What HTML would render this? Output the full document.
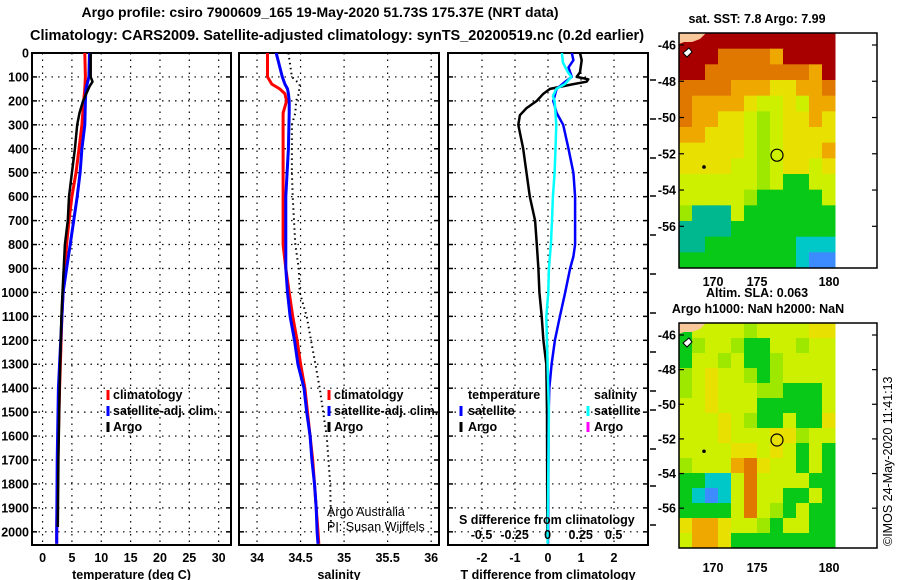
<!DOCTYPE html>
<html><head><meta charset="utf-8"><style>
html,body{margin:0;padding:0;background:#fff;}
svg{display:block;font-family:"Liberation Sans",Arial,sans-serif;}
.b{font-weight:bold;font-size:12.5px;}
</style></head><body>
<svg id="c" width="900" height="580" viewBox="0 0 900 580">
<text x="320" y="17" text-anchor="middle" class="b" style="font-size:14px">Argo profile: csiro 7900609_165 19-May-2020 51.73S 175.37E (NRT data)</text>
<text x="337" y="40" text-anchor="middle" class="b" style="font-size:14.5px">Climatology: CARS2009. Satellite-adjusted climatology: synTS_20200519.nc (0.2d earlier)</text>
<g id="plots"></g>
<text x="757" y="23" text-anchor="middle" class="b">sat. SST: 7.8 Argo: 7.99</text>
<text x="757" y="297" text-anchor="middle" class="b">Altim. SLA: 0.063</text>
<text x="758" y="313" text-anchor="middle" class="b">Argo h1000: NaN h2000: NaN</text>
<text transform="translate(892,546) rotate(-90)" style="font-size:12.5px">©IMOS 24-May-2020 11:41:13</text>
</svg>
<script>
const NS='http://www.w3.org/2000/svg';
const svg=document.getElementById('c');
const G=document.getElementById('plots');
function mk(tag,at,par){const e=document.createElementNS(NS,tag);for(const k in at)e.setAttribute(k,at[k]);(par||G).appendChild(e);return e;}

// ---- data ----
const depthTicks=[0,100,200,300,400,500,600,700,800,900,1000,1100,1200,1300,1400,1500,1600,1700,1800,1900,2000];
const tempTicks=[0,5,10,15,20,25,30];
const salTicks=[34,34.5,35,35.5,36];
const tdiffTicks=[-2,-1,0,1,2];
const sdiffTicks=[-0.5,-0.25,0,0.25,0.5];
const sdiffTickLabels=['-0.5','-0.25','0','0.25','0.5'];

const climDepth=[0,100,150,200,300,400,500,600,700,800,900,1000,1100,1400,1700,2000,2050];
const climTemp=[7.2,7.3,7.2,7.0,6.7,6.2,5.7,5.0,4.5,4.1,3.8,3.5,3.3,2.9,2.6,2.4,2.4];
const satTemp=[8.0,7.9,7.4,7.3,7.2,6.7,6.4,5.9,5.3,4.7,4.1,3.5,3.3,2.7,2.5,2.4,2.4];
const argoDepth=[0,100,120,140,200,250,300,400,500,600,700,800,900,1000,1100,1400,1700,1980];
const argoTemp=[8.2,8.2,8.5,8.0,6.9,6.3,5.9,5.5,5.0,4.5,4.3,3.8,3.6,3.4,3.2,2.9,2.7,2.6];

const salDepth=[0,100,130,150,170,200,250,400,600,800,900,1000,1100,1200,1300,1400,1500,1600,1700,1800,1900,2000,2050];
const climSal=[34.12,34.12,34.17,34.26,34.32,34.34,34.30,34.30,34.30,34.30,34.33,34.37,34.41,34.46,34.50,34.55,34.58,34.61,34.64,34.66,34.68,34.70,34.71];
const satSal=[34.22,34.29,34.32,34.35,34.36,34.37,34.37,34.36,34.33,34.33,34.33,34.35,34.38,34.43,34.47,34.54,34.57,34.61,34.63,34.66,34.68,34.69,34.70];
const argoSalDepth=[0,100,130,170,200,250,300,500,600,800,900,1000,1100,1200,1300,1400,1600,1800,1980];
const argoSal=[34.36,34.40,34.49,34.48,34.45,34.44,34.40,34.40,34.41,34.44,34.48,34.49,34.57,34.62,34.67,34.72,34.80,34.84,34.85];

const dDepth=[0,30,80,100,110,120,130,150,170,200,230,260,300,400,500,600,700,800,900,1000,1100,1200,1300,1500,2000];
const argoTdiff=[0.97,1.02,0.97,0.87,1.22,1.17,0.77,0.06,-0.14,-0.34,-0.65,-0.85,-0.9,-0.75,-0.65,-0.55,-0.39,-0.34,-0.29,-0.26,-0.19,-0.14,-0.05,-0.03,-0.02];
const satDepth=[0,30,60,100,120,150,200,250,300,400,500,600,800,850,900,1000,1100,1200,1300,1400,1500,2050];
const satTdiff=[0.72,0.77,0.62,0.72,0.52,0.26,0.16,0.26,0.46,0.62,0.77,0.82,0.82,0.77,0.67,0.52,0.36,0.21,0.11,0.04,0.02,0.0];
const sDepth=[0,40,80,100,130,150,180,200,300,400,500,600,700,800,900,1000,1100,1500,2050];
const satSdiff=[0.108,0.116,0.154,0.18,0.13,0.066,0.04,0.053,0.066,0.06,0.053,0.04,0.033,0.025,0.01,0.005,-0.01,0.01,0.0];

const latTicks=[-46,-48,-50,-52,-54,-56];
const lonTicks=[170,175,180];
const sstGrid=["RRRRRRRRRRRR","RRROOOOoRRRR","RROOOOOOOOoR","OOOOoooYYooO","OooooYyyYyoo","OooYYygyYYoY","ooYYYygyYYYY","YYYYYygyYYYo","YYYYyygyYYyY","yyyyyygyGGyy","yyyyygGGGGGy","gTTTyGGGGGGG","TTTTGGGGGGGG","TTGGGGGGGCCC","GGGGGGGGGCBB"];
const slaGrid=["GyyyygyyyyYY","GgyygGGyygyy","GyygyGGgyyyy","gyYyygGgyyyy","gyYyyyggGGGy","yyYyyyGGGGGy","yyyYygGGyGGY","yyyYyyyYYgyy","yyyyYYyYyGyG","gyyyoOYyyGyG","GGCCyOyyyyGG","GCBCyOyyGGyG","GGGGyOygGyGG","YooYyygGyyGG","yooYGGGGGGGG"];
const pal={L:'#f8c89a',R:'#a80000',O:'#e07800',o:'#eea800',Y:'#e8e000',y:'#ccf000',g:'#9ee800',G:'#08c818',T:'#00b890',C:'#00c8c8',B:'#3c8cff'};

// ---- geometry ----
const yTop=53,yBot=545,dMax=2055;
const yD=d=>yTop+(d/dMax)*(yBot-yTop);
function axis(x0,x1,lo,hi){return v=>x0+(v-lo)/(hi-lo)*(x1-x0);}
const P1={x0:32,x1:231},P2={x0:239,x1:439},P3={x0:448,x1:648};
const xT=axis(P1.x0,P1.x1,-1.8,32.1);
const xS=axis(P2.x0,P2.x1,33.793,36.09);
const xTd=axis(P3.x0,P3.x1,-3.03,3.03);
const xSd=axis(P3.x0,P3.x1,-0.754,0.76);

function panel(P,name,ticks,fx,labels,xtitle){
  const g=mk('g',{});
  
  
  ticks.forEach(t=>{const l=mk('line',{x1:fx(t),x2:fx(t),y1:yTop,y2:yBot,stroke:'#000','stroke-width':1.2,'stroke-dasharray':'1.5,5'},g);
    });
  depthTicks.forEach(d=>{const l=mk('line',{x1:P.x0,x2:P.x1,y1:yD(d),y2:yD(d),stroke:'#000','stroke-width':1.2,'stroke-dasharray':'1.5,5'},g);
    
    mk('line',{x1:P.x0,x2:P.x0+5,y1:yD(d),y2:yD(d),stroke:'#000','stroke-width':1.5},g);
    mk('line',{x1:P.x1-5,x2:P.x1,y1:yD(d),y2:yD(d),stroke:'#000','stroke-width':1.5},g);});
  ticks.forEach((t,i)=>{const tx=mk('text',{x:fx(t),y:562,'text-anchor':'middle','class':'b'},g);tx.textContent=labels[i];
    });
  const tt=mk('text',{x:(P.x0+P.x1)/2,y:579,'text-anchor':'middle','class':'b'},g);tt.textContent=xtitle;
  
  const r=mk('rect',{x:P.x0,y:yTop,width:P.x1-P.x0,height:yBot-yTop,fill:'none',stroke:'#000','stroke-width':2},g);
  
  return g;
}
function line(g,xs,ds,fx,color,w,name,dash){
  const pts=xs.map((v,i)=>fx(v).toFixed(1)+','+yD(ds[i]).toFixed(1)).join(' ');
  const p=mk('polyline',{points:pts,fill:'none',stroke:color,'stroke-width':w,'stroke-linejoin':'round'},g);
  if(dash)p.setAttribute('stroke-dasharray',dash);
  
  
}
function txt(g,x,y,s,name,cls,anchor){const t=mk('text',{x:x,y:y,'class':cls||'b','text-anchor':anchor||'start'},g);t.textContent=s;
  return t;}
function key(g,x,y,color,name){const l=mk('line',{x1:x,x2:x,y1:y-10,y2:y,stroke:color,'stroke-width':3},g);
  }

// panel 1
const g1=panel(P1,'temperature-panel',tempTicks,xT,tempTicks.map(String),'temperature (deg C)');
depthTicks.forEach(d=>txt(g1,29,yD(d)+4.5,String(d),'depth-tick-label','b','end'));
line(g1,climTemp,climDepth,xT,'#ff0000',3,'climatology-temp-line');
line(g1,satTemp,climDepth,xT,'#0000ff',3,'satellite-temp-line');
line(g1,argoTemp,argoDepth,xT,'#000',2.5,'argo-temp-line');
[['#ff0000','climatology'],['#0000ff','satellite-adj. clim.'],['#000','Argo']].forEach((k,i)=>{
  key(g1,108,400+i*16,k[0],'legend-key');txt(g1,113,399+i*16,k[1],'legend-entry');});

// panel 2
const g2=panel(P2,'salinity-panel',salTicks,xS,['34','34.5','35','35.5','36'],'salinity');
line(g2,climSal,salDepth,xS,'#ff0000',3,'climatology-salinity-line');
line(g2,satSal,salDepth,xS,'#0000ff',3,'satellite-salinity-line');
line(g2,argoSal,argoSalDepth,xS,'#000',2,'argo-salinity-line','1.5,3.5');
[['#ff0000','climatology'],['#0000ff','satellite-adj. clim.'],['#000','Argo']].forEach((k,i)=>{
  key(g2,329,400+i*16,k[0],'legend-key');txt(g2,334,399+i*16,k[1],'legend-entry');});
txt(g2,327,516,'Argo Australia','credit-line','', 'start').setAttribute('style','font-size:12.5px;font-weight:normal');
txt(g2,327,531,'PI: Susan Wijffels','credit-line','', 'start').setAttribute('style','font-size:12.5px;font-weight:normal');

// panel 3
const g3=panel(P3,'difference-panel',tdiffTicks,xTd,['-2','-1','0','1','2'],'T difference from climatology');
[80,119,158,196,235,274,313,352,391,410,449,486,525].forEach(y=>mk('line',{x1:P3.x1+2,x2:P3.x1+8,y1:y,y2:y,stroke:'#000','stroke-width':1.5},g3));
line(g3,argoTdiff,dDepth,xTd,'#000',2.5,'argo-tdiff-line');
line(g3,satTdiff,satDepth,xTd,'#0000ff',2.5,'satellite-tdiff-line');
line(g3,satSdiff,sDepth,xSd,'#00ffff',2.5,'satellite-sdiff-line');
txt(g3,468,399,'temperature','legend-header');txt(g3,594,399,'salinity','legend-header');
key(g3,461,416,'#0000ff','legend-key');txt(g3,468,415,'satellite','legend-entry');
key(g3,461,432,'#000','legend-key');txt(g3,468,431,'Argo','legend-entry');
key(g3,588,416,'#00ffff','legend-key');txt(g3,594,415,'satellite','legend-entry');
key(g3,588,432,'#ff00ff','legend-key');txt(g3,594,431,'Argo','legend-entry');
txt(g3,459,524,'S difference from climatology','s-axis-title');
sdiffTicks.forEach((s,i)=>txt(g3,xSd(s),539,sdiffTickLabels[i],'s-tick-label','b','middle'));

// maps
function map(grid,top,bot,name,lonY){
  const g=mk('g',{},svg);
  
  
  const x0=679,x1=835,cw=(x1-x0)/grid[0].length,ch=(bot-top)/grid.length;
  grid.forEach((row,r)=>[...row].forEach((c,k)=>{
    const cell=mk('rect',{x:x0+k*cw,y:top+r*ch,width:cw+0.5,height:ch+0.5,fill:pal[c]},g);
    
    
  }));
  const land=mk('polygon',{points:`679,${top} 706,${top} 700,${top+6} 692,${top+9} 684,${top+9} 679,${top+11}`,fill:pal.L},g);
  
  const latY=v=>top+12+(-46-v)/2*((bot-top-12)/6.15);
  latTicks.forEach(v=>{const y=latY(v);
    mk('line',{x1:679,x2:684,y1:y,y2:y,stroke:'#000','stroke-width':1.2},g);
    mk('line',{x1:872,x2:877,y1:y,y2:y,stroke:'#000','stroke-width':1.2},g);
    txt(g,676,y+4.5,String(v),'lat-tick-label','b','end');});
  const lonX={170:713,175:757,180:829};
  lonTicks.forEach(v=>txt(g,lonX[v],lonY,String(v),'lon-tick-label','b','middle'));
  mk('rect',{x:679,y:top,width:198,height:bot-top,fill:'none',stroke:'#000','stroke-width':1.5},g);
  const c=mk('circle',{cx:777,cy:top+(bot-top)*0.52,r:6,fill:'none',stroke:'#000','stroke-width':1.2},g);
  
  mk('circle',{cx:704,cy:top+(bot-top)*0.57,r:1.8,fill:'#000'},g);
  mk('path',{d:`M683 ${top+20} l6 -5 l3 4 l-5 5 z`,fill:'#fff',stroke:'#000','stroke-width':1},g);
}
map(sstGrid,33,268,'sst-map',286);
map(slaGrid,323,548,'sla-map',572);
</script>
</body></html>
